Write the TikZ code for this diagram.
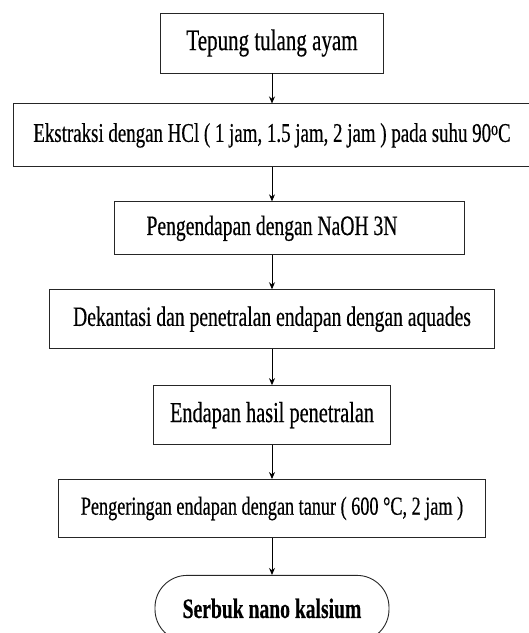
\documentclass[tikz,border=0pt]{standalone}
\usepackage{fontspec}
\setmainfont[FakeStretch=0.7,FakeBold=0.4]{Liberation Serif}
\usepackage{tikz}
\usetikzlibrary{positioning,arrows.meta}

\newcommand{\derajat}{\raisebox{0.55ex}{\fontsize{20pt}{20pt}\selectfont o}}

\begin{document}
\begin{tikzpicture}[>={Stealth[length=7pt,width=6pt]}, node distance=34pt,
  box/.style={draw=black!85, line width=0.9pt, inner sep=0pt, align=center,
    font=\fontsize{28pt}{32pt}\selectfont},
  ujung/.style={box, rounded corners=32pt, font=\fontsize{28pt}{32pt}\selectfont\bfseries}]
  \useasboundingbox (0,0) rectangle (529pt,-633pt);

  % Bahan awal
  \node[box, minimum width=223pt, minimum height=60pt, font=\fontsize{30pt}{34pt}\selectfont] (tepung) at (272pt,-43pt) {Tepung tulang ayam};

  % Ekstraksi
  \node[box, below=30pt of tepung, minimum width=518pt, minimum height=63pt, font=\fontsize{27pt}{31pt}\selectfont] (ekstraksi) {Ekstraksi dengan HCl ( 1 jam, 1.5 jam, 2 jam ) pada suhu 90\derajat C};

  % Pengendapan
  \node[box, below=of ekstraksi, xshift=17pt, minimum width=350pt, minimum height=53pt] (endap) {Pengendapan dengan NaOH 3N\hspace*{34pt}};

  % Dekantasi
  \node[box, below=of endap, xshift=-17pt, minimum width=445pt, minimum height=59pt] (dekantasi) {Dekantasi dan penetralan endapan dengan aquades};

  % Hasil penetralan
  \node[box, below=36pt of dekantasi, minimum width=237pt, minimum height=59pt, font=\fontsize{29pt}{33pt}\selectfont] (hasil) {Endapan hasil penetralan};

  % Pengeringan
  \node[box, below=of hasil, minimum width=427pt, minimum height=58pt, font=\fontsize{26pt}{30pt}\selectfont] (kering) {Pengeringan endapan dengan tanur ( 600 °C, 2 jam )};

  % Produk akhir
  \node[ujung, below=37pt of kering, minimum width=234pt, minimum height=66pt] (serbuk) {Serbuk nano kalsium};

  % Panah
  \draw[->, line width=0.9pt] (tepung) -- (ekstraksi);
  \draw[->, line width=0.9pt] (ekstraksi.south) -- (ekstraksi.south |- endap.north);
  \draw[->, line width=0.9pt] (endap.south -| dekantasi.north) -- (dekantasi.north);
  \draw[->, line width=0.9pt] (dekantasi) -- (hasil);
  \draw[->, line width=0.9pt] (hasil) -- (kering);
  \draw[->, line width=0.9pt] (kering) -- (serbuk);
\end{tikzpicture}
\end{document}
